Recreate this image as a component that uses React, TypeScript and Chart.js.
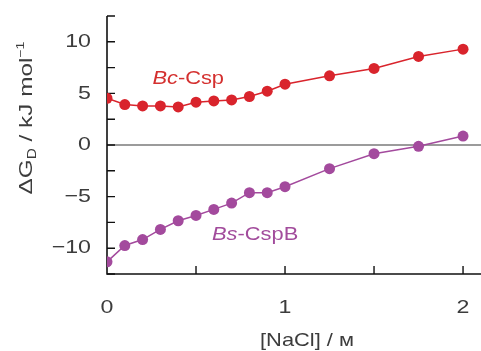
import React, { useEffect, useRef } from "react";
import { Chart, registerables } from "chart.js";

Chart.register(...registerables);

const naclConc = [0, 0.1, 0.2, 0.3, 0.4, 0.5, 0.6, 0.7, 0.8, 0.9, 1.0, 1.25, 1.5, 1.75, 2.0];
const bcCsp = [4.53, 3.92, 3.79, 3.79, 3.69, 4.15, 4.27, 4.37, 4.7, 5.21, 5.89, 6.7, 7.42, 8.58, 9.29];
const bsCspB = [-11.32, -9.74, -9.16, -8.18, -7.34, -6.83, -6.24, -5.63, -4.62, -4.62, -4.04, -2.29, -0.84, -0.13, 0.87];

const xTickValues = [0, 0.5, 1, 1.5, 2];
const xTickLabels = ["0", "", "1", "", "2"];
const yTickValues = [-12.5, -10, -7.5, -5, -2.5, 0, 2.5, 5, 7.5, 10, 12.5];
const yTickLabels = ["", "\u221210", "", "\u22125", "", "0", "", "5", "", "10", ""];

const seriesNames = [
  { italic: "Bc", rest: "-Csp" },
  { italic: "Bs", rest: "-CspB" },
];
const seriesLabelAnchors = [
  { x: 0.255, y: 6.4 },
  { x: 0.59, y: -8.65 },
];

const RED = "#d9242c";
const PURPLE = "#a34a9d";
const LABEL_RED = "#d4302f";
const LABEL_PURPLE = "#a24c9c";
const FONT = "'Liberation Sans', Arial, Helvetica, sans-serif";
const TEXT = "#3c3c3c";
const SX = 1.22;

type Part = { t: string; size: number; dy: number; italic?: boolean };

function drawParts(ctx: any, parts: Part[], x: number, y: number, align: "left" | "center" | "right", baseline: string, sx = SX) {
  ctx.save();
  ctx.translate(x, y);
  ctx.scale(sx, 1);
  ctx.textAlign = "left";
  ctx.textBaseline = baseline;
  let total = 0;
  parts.forEach((p) => {
    ctx.font = `${p.italic ? "italic " : ""}${p.size}px ${FONT}`;
    total += ctx.measureText(p.t).width;
  });
  let cx = align === "left" ? 0 : align === "center" ? -total / 2 : -total;
  parts.forEach((p) => {
    ctx.font = `${p.italic ? "italic " : ""}${p.size}px ${FONT}`;
    ctx.fillText(p.t, cx, p.dy);
    cx += ctx.measureText(p.t).width;
  });
  ctx.restore();
}

const decorPlugin = {
  id: "decor",
  beforeDatasetsDraw(chart: any) {
    const ctx = chart.ctx;
    const xs = chart.scales.x;
    const ys = chart.scales.y;
    const area = chart.chartArea;
    ctx.save();
    ctx.strokeStyle = "#7a7a7a";
    ctx.lineWidth = 1.6;
    const y0 = ys.getPixelForValue(0);
    ctx.beginPath();
    ctx.moveTo(area.left, y0);
    ctx.lineTo(chart.width, y0);
    ctx.stroke();
    ctx.strokeStyle = "#111";
    ctx.lineWidth = 1.6;
    ctx.beginPath();
    ctx.moveTo(area.left, area.top);
    ctx.lineTo(area.left, area.bottom);
    ctx.lineTo(chart.width, area.bottom);
    ctx.stroke();
    ctx.lineWidth = 1.4;
    ctx.beginPath();
    yTickValues.forEach((v) => {
      const py = ys.getPixelForValue(v);
      ctx.moveTo(area.left, py);
      ctx.lineTo(area.left + 8, py);
    });
    xTickValues.forEach((v) => {
      if (v === 0) return;
      const px = xs.getPixelForValue(v);
      ctx.moveTo(px, area.bottom);
      ctx.lineTo(px, area.bottom - 8);
    });
    ctx.stroke();
    ctx.restore();
  },
  afterDraw(chart: any) {
    const ctx = chart.ctx;
    const xs = chart.scales.x;
    const ys = chart.scales.y;
    const area = chart.chartArea;
    ctx.save();
    ctx.fillStyle = TEXT;
    yTickValues.forEach((v, i) => {
      if (!yTickLabels[i]) return;
      drawParts(ctx, [{ t: yTickLabels[i], size: 19, dy: 0 }], area.left - 16, ys.getPixelForValue(v), "right", "middle");
    });
    xTickValues.forEach((v, i) => {
      if (!xTickLabels[i]) return;
      drawParts(ctx, [{ t: xTickLabels[i], size: 19, dy: 0 }], xs.getPixelForValue(v), area.bottom + 34, "center", "middle");
    });
    const colors = [LABEL_RED, LABEL_PURPLE];
    seriesNames.forEach((n, i) => {
      ctx.fillStyle = colors[i];
      drawParts(
        ctx,
        [
          { t: n.italic, size: 19, dy: 0, italic: true },
          { t: n.rest, size: 19, dy: 0 },
        ],
        xs.getPixelForValue(seriesLabelAnchors[i].x),
        ys.getPixelForValue(seriesLabelAnchors[i].y),
        "left",
        "middle",
        1.15
      );
    });
    ctx.fillStyle = TEXT;
    drawParts(ctx, [{ t: "[NaCl] / \u043c", size: 19, dy: 0 }], 307, 341, "center", "middle", 1.15);
    ctx.translate(32, 118);
    ctx.rotate(-Math.PI / 2);
    drawParts(
      ctx,
      [
        { t: "\u0394G", size: 19, dy: 0 },
        { t: "D", size: 12, dy: 4 },
        { t: " / kJ mol", size: 19, dy: 0 },
        { t: "\u22121", size: 11, dy: -8 },
      ],
      0,
      0,
      "center",
      "alphabetic",
      1.28
    );
    ctx.restore();
  },
};

const zeroPad = (s: any) => {
  s.paddingTop = 0;
  s.paddingBottom = 0;
  s.paddingLeft = 0;
  s.paddingRight = 0;
};

export default function App() {
  const ref = useRef<HTMLCanvasElement>(null);
  useEffect(() => {
    document.body.style.margin = "0";
    const chart = new Chart(ref.current!, {
      type: "line",
      data: {
        datasets: [
          {
            label: "Bc-Csp",
            data: naclConc.map((x, i) => ({ x, y: bcCsp[i] })),
            borderColor: RED,
            backgroundColor: RED,
            borderWidth: 1.5,
            pointRadius: 5.5,
            pointBorderWidth: 0,
          },
          {
            label: "Bs-CspB",
            data: naclConc.map((x, i) => ({ x, y: bsCspB[i] })),
            borderColor: PURPLE,
            backgroundColor: PURPLE,
            borderWidth: 1.5,
            pointRadius: 5.5,
            pointBorderWidth: 0,
          },
        ],
      },
      options: {
        animation: false,
        responsive: false,
        layout: { padding: { top: 16, right: 0, left: 0, bottom: 0 } },
        plugins: { legend: { display: false }, tooltip: { enabled: false } },
        scales: {
          x: {
            type: "linear",
            min: 0,
            max: 2.07,
            grid: { display: false, drawTicks: false },
            border: { display: false },
            afterBuildTicks: (s: any) => {
              s.ticks = xTickValues.map((v) => ({ value: v }));
            },
            afterFit: (s: any) => {
              s.height = 77;
              zeroPad(s);
            },
            ticks: { display: false },
          },
          y: {
            type: "linear",
            min: -12.5,
            max: 12.5,
            grid: { display: false, drawTicks: false },
            border: { display: false },
            afterBuildTicks: (s: any) => {
              s.ticks = yTickValues.map((v) => ({ value: v }));
            },
            afterFit: (s: any) => {
              s.width = 107;
              zeroPad(s);
            },
            ticks: { display: false },
          },
        },
      },
      plugins: [decorPlugin],
    } as any);
    return () => chart.destroy();
  }, []);
  return (
    <div style={{ width: 481, height: 351 }}>
      <canvas ref={ref} width={481} height={351} />
    </div>
  );
}
